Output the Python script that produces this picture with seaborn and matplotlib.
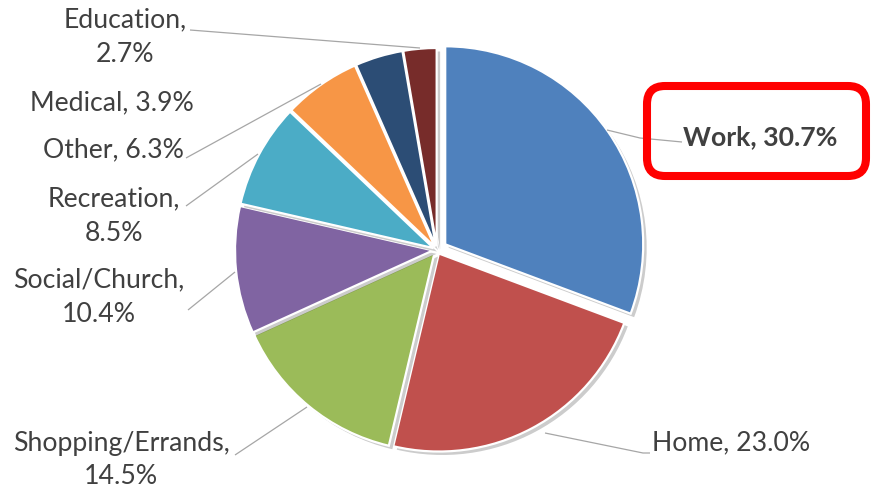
import matplotlib
matplotlib.use("Agg")
import matplotlib.pyplot as plt
import matplotlib.patheffects as pe
from matplotlib.patches import FancyBboxPatch
import seaborn as sns

# ---- data ----
categories = ["Work", "Home", "Shopping/Errands", "Social/Church",
              "Recreation", "Other", "Medical", "Education"]
values = [30.7, 23.0, 14.5, 10.4, 8.5, 6.3, 3.9, 2.7]
colors = ["#4F81BD", "#C0504D", "#9BBB59", "#8064A2",
          "#4BACC6", "#F79646", "#2C4D75", "#772C2A"]
label_breaks = [False, False, True, True, True, False, False, True]

# ---- layout (pixel coords, y measured from top) ----
W, H = 872, 491
label_pos = {
    "Work": (760, 137), "Home": (731, 443), "Shopping/Errands": (121, 460),
    "Social/Church": (99, 297), "Recreation": (114, 216), "Other": (113, 150),
    "Medical": (112, 103), "Education": (125, 37),
}
leaders = {
    "Work": [(682, 142), (640, 138), (607, 130)],
    "Home": [(650, 453), (643, 453), (545, 433)],
    "Shopping/Errands": [(235, 455), (307, 407)],
    "Social/Church": [(188, 310), (235, 272)],
    "Recreation": [(186, 206), (258, 154)],
    "Other": [(186, 158), (321, 84)],
    "Education": [(190, 30), (420, 48)],
}

sns.set_theme(style="white")
plt.rcParams['font.family'] = ['Lato', 'DejaVu Sans']

fig = plt.figure(figsize=(W / 100, H / 100), dpi=100)
ax = fig.add_axes([0, 0, 1, 1])

def Y(py):
    return H - py

# explode offsets in pixels (matplotlib applies them in data units)
explode = [10 if c == "Work" else 4 for c in categories]
wedges, _ = ax.pie(values, colors=colors, startangle=90, counterclock=False,
                   center=(437, Y(250)), radius=198, explode=explode,
                   wedgeprops=dict(linewidth=1.6, edgecolor="white"))
for w in wedges:
    w.set_path_effects([pe.SimplePatchShadow(offset=(2.5, -2.5), shadow_rgbFace="#000000", alpha=0.2),
                        pe.Normal()])

ax.set_xlim(0, W)
ax.set_ylim(0, H)
ax.set_aspect('equal')
ax.axis('off')

# fit font size so that a reference label has the measured width
renderer = fig.canvas.get_renderer()
t = ax.text(0, 0, "Home, 23.0%", fontsize=10)
wpx = t.get_window_extent(renderer).width
t.remove()
fs = 10 * 158 / wpx

for c, v, br in zip(categories, values, label_breaks):
    sep = ",\n" if br else ", "
    txt = f"{c}{sep}{v:.1f}%"
    x, y = label_pos[c]
    ax.text(x, Y(y), txt, ha="center", va="center", fontsize=fs,
            color="#404040", linespacing=1.45,
            fontweight="bold" if c == "Work" else "normal")
    if c in leaders:
        pts = leaders[c]
        ax.plot([p[0] for p in pts], [Y(p[1]) for p in pts],
                color="#A6A6A6", lw=0.9, solid_capstyle="butt")

box = FancyBboxPatch((647, Y(176)), 219, 90,
                     boxstyle="round,pad=0,rounding_size=18",
                     fill=False, edgecolor="#FF0000", lw=5.8, zorder=5)
ax.add_patch(box)

fig.savefig("out.png", dpi=100)
